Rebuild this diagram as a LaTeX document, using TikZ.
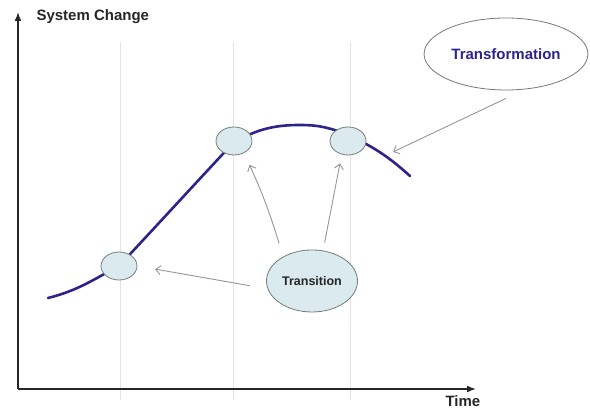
\documentclass[tikz,border=0pt]{standalone}
\usepackage{fontspec}
\setmainfont{Liberation Sans}
\usetikzlibrary{shapes.geometric,arrows.meta}
\definecolor{curveblue}{RGB}{45,35,140}
\definecolor{dotfill}{RGB}{218,234,238}
\definecolor{rimgray}{RGB}{115,125,120}
\definecolor{arrowgray}{RGB}{150,150,150}
\definecolor{gridgray}{RGB}{228,228,228}
\begin{document}
\begin{tikzpicture}[x=1pt,y=1pt,
  dot/.style={draw=rimgray,fill=dotfill,ellipse,line width=0.8pt,inner sep=0pt,minimum width=36pt,minimum height=28pt},
  pointer/.style={draw=arrowgray,line width=0.9pt,-{Straight Barb[length=5pt,width=9pt]}},
  axis/.style={line width=1.6pt,draw=black!85,-{Latex[length=9pt,width=7pt]}},
  lbl/.style={font=\fontsize{15}{17}\selectfont\bfseries}]
\useasboundingbox (0,0) rectangle (590,409);
\foreach \x in {120,233,350} {
  \draw[gridgray,line width=0.8pt] (\x,9) -- (\x,367);
}
\coordinate (O) at (18,20);
\coordinate (ytop) at (18,397);
\coordinate (xend) at (476,20);
\draw[axis] (O) -- (ytop);
\draw[axis] (O) -- (xend);
\node[lbl,anchor=base west,text=black!85] (ylab) at (33,388) {System Change};
\node[lbl,anchor=base west,text=black!85] (xlab) at (442,2) {Time};
% the change curve
\draw[curveblue,line width=2.6pt,line cap=round] (48,111) to[out=14,in=208] (119,143)
  to[out=47,in=227] (234,267) to[out=28,in=180] (300,284) to[out=0,in=158] (348,274)
  to[out=-25,in=138] (410,233);
\node[dot] (t1) at (119,143) {};
\node[dot] (t2) at (234,268) {};
\node[dot] (t3) at (348,268) {};
\node[dot,minimum width=91pt,minimum height=62pt,font=\fontsize{12.5}{14}\selectfont\bfseries,text=black!85] (trans) at (312,128) {Transition};
\node[draw=rimgray,fill=white,ellipse,line width=0.8pt,minimum width=162pt,minimum height=72pt,font=\fontsize{15}{17}\selectfont\bfseries,text=curveblue] (tform) at (506,355) {Transformation};
\coordinate (hit) at (393,257);
\draw[pointer] ([yshift=-8pt]tform.south) -- (hit);
\foreach \ang/\tgt/\sa/\sb/\bd in {190/t1.east/18/18/0, 140/t2.-50/14/13/4, 70/t3.-115/8/9/0} {
  \draw[pointer,shorten <=\sa pt,shorten >=\sb pt] (trans.\ang) to[bend right=\bd] (\tgt);
}
\end{tikzpicture}
\end{document}
